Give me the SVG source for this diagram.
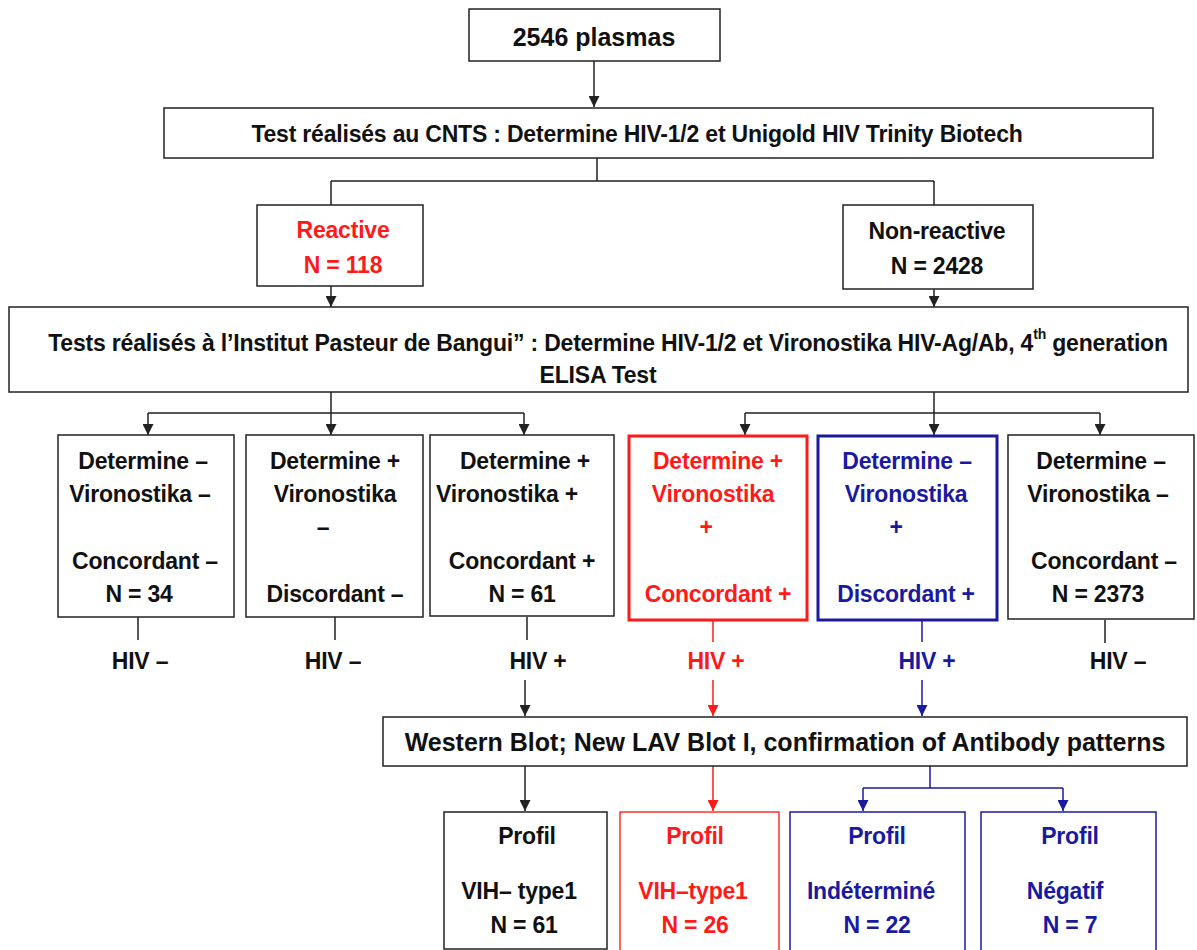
<svg xmlns="http://www.w3.org/2000/svg" width="1197" height="950" viewBox="0 0 1197 950">
<style>
text{font-family:"Liberation Sans",Arial,sans-serif;font-weight:bold;font-size:23px;letter-spacing:-0.2px;text-anchor:middle;fill:#111}
.big{font-size:25px;letter-spacing:0}
.box{fill:#fff;stroke:#222;stroke-width:1.5}
.r{fill:#ff1a1a}
.b{fill:#1a1aa0}
.rb{fill:#fff;stroke:#ff1a1a;stroke-width:3}
.bb{fill:#fff;stroke:#1a1aa0;stroke-width:3}
.rb1{fill:#fff;stroke:#ff3030;stroke-width:1.5}
.bb1{fill:#fff;stroke:#1a1aa0;stroke-width:1.5}
.ln{fill:none;stroke:#222;stroke-width:1.5}
.lr{fill:none;stroke:#ff1a1a;stroke-width:1.5}
.lb{fill:none;stroke:#1a1aa0;stroke-width:1.5}
</style>
<defs>
<marker id="ak" viewBox="0 0 10 10" refX="10" refY="5" markerWidth="12" markerHeight="11" markerUnits="userSpaceOnUse" orient="auto"><path d="M0,0L10,5L0,10z" fill="#222"/></marker>
<marker id="ar" viewBox="0 0 10 10" refX="10" refY="5" markerWidth="12" markerHeight="11" markerUnits="userSpaceOnUse" orient="auto"><path d="M0,0L10,5L0,10z" fill="#ff1a1a"/></marker>
<marker id="ab" viewBox="0 0 10 10" refX="10" refY="5" markerWidth="12" markerHeight="11" markerUnits="userSpaceOnUse" orient="auto"><path d="M0,0L10,5L0,10z" fill="#1a1aa0"/></marker>
</defs>
<rect width="1197" height="950" fill="#fff"/>

<g id="connectors">
<path class="ln" d="M594,61V107" marker-end="url(#ak)"/>
<path class="ln" d="M597,158V181M331,181H934M331,181V205M934,181V205"/>
<path class="ln" d="M331,286V307" marker-end="url(#ak)"/>
<path class="ln" d="M934,289V307" marker-end="url(#ak)"/>
<path class="ln" d="M331,392V413M148,413H524"/>
<path class="ln" d="M148,413V435" marker-end="url(#ak)"/>
<path class="ln" d="M331,413V435" marker-end="url(#ak)"/>
<path class="ln" d="M524,413V435" marker-end="url(#ak)"/>
<path class="ln" d="M934,392V413M745,413H1100"/>
<path class="ln" d="M745,413V435" marker-end="url(#ak)"/>
<path class="ln" d="M934,413V435" marker-end="url(#ak)"/>
<path class="ln" d="M1100,413V435" marker-end="url(#ak)"/>
<path class="ln" d="M138,617V640M335,617V640M527,617V640M1105,620V643"/>
<path class="lr" d="M713,620V642"/>
<path class="lb" d="M922,620V642"/>
<path class="ln" d="M525,680V716" marker-end="url(#ak)"/>
<path class="lr" d="M713,680V716" marker-end="url(#ar)"/>
<path class="lb" d="M922,680V716" marker-end="url(#ab)"/>
<path class="ln" d="M525,766V811" marker-end="url(#ak)"/>
<path class="lr" d="M713,766V811" marker-end="url(#ar)"/>
<path class="lb" d="M930,766V788M863,788H1063"/>
<path class="lb" d="M863,788V811" marker-end="url(#ab)"/>
<path class="lb" d="M1063,788V811" marker-end="url(#ab)"/>
</g>

<g id="n-plasmas"><rect class="box" x="469" y="9" width="251" height="52"/><text class="big" x="594" y="46">2546 plasmas</text></g>
<g id="n-cnts"><rect class="box" x="164" y="108" width="989" height="50"/><text x="637" y="142">Test réalisés au CNTS : Determine HIV-1/2 et Unigold HIV Trinity Biotech</text></g>
<g id="n-reactive"><rect class="box" x="257" y="205" width="166" height="81"/><text class="r" x="343" y="238">Reactive</text><text class="r" x="343" y="273">N = 118</text></g>
<g id="n-nonreactive"><rect class="box" x="843" y="205" width="190" height="84"/><text x="937" y="239">Non-reactive</text><text x="937" y="274">N = 2428</text></g>
<g id="n-pasteur"><rect class="box" x="9" y="307" width="1179" height="85"/><text x="608" y="351">Tests réalisés à l’Institut Pasteur de Bangui” : Determine HIV-1/2 et Vironostika HIV-Ag/Ab, 4<tspan dy="-12" style="font-size:14px">th</tspan><tspan dy="12"> generation</tspan></text><text x="598" y="383">ELISA Test</text></g>

<g id="n-c1"><rect class="box" x="58" y="435" width="176" height="182"/><text x="143" y="469">Determine –</text><text x="140" y="502">Vironostika –</text><text x="145" y="569">Concordant –</text><text x="139" y="602">N = 34</text></g>
<g id="n-c2"><rect class="box" x="246" y="435" width="177" height="182"/><text x="335" y="469">Determine +</text><text x="335" y="502">Vironostika</text><text x="323" y="535">–</text><text x="335" y="602">Discordant –</text></g>
<g id="n-c3"><rect class="box" x="430" y="435" width="184" height="181"/><text x="525" y="469">Determine +</text><text x="507" y="502">Vironostika +</text><text x="522" y="569">Concordant +</text><text x="522" y="602">N = 61</text></g>
<g id="n-c4"><rect class="rb" x="629" y="436" width="178" height="184"/><text class="r" x="718" y="469">Determine +</text><text class="r" x="713" y="502">Vironostika</text><text class="r" x="706" y="535">+</text><text class="r" x="718" y="602">Concordant +</text></g>
<g id="n-c5"><rect class="bb" x="818" y="436" width="179" height="184"/><text class="b" x="907" y="469">Determine –</text><text class="b" x="906" y="502">Vironostika</text><text class="b" x="896" y="535">+</text><text class="b" x="906" y="602">Discordant +</text></g>
<g id="n-c6"><rect class="box" x="1008" y="435" width="186" height="184"/><text x="1101" y="469">Determine –</text><text x="1098" y="502">Vironostika –</text><text x="1104" y="569">Concordant –</text><text x="1098" y="602">N = 2373</text></g>

<g id="n-hiv1"><text x="140" y="669">HIV –</text></g>
<g id="n-hiv2"><text x="333" y="669">HIV –</text></g>
<g id="n-hiv3"><text x="538" y="669">HIV +</text></g>
<g id="n-hiv4"><text class="r" x="716" y="669">HIV +</text></g>
<g id="n-hiv5"><text class="b" x="927" y="669">HIV +</text></g>
<g id="n-hiv6"><text x="1118" y="669">HIV –</text></g>

<g id="n-wb"><rect class="box" x="383" y="717" width="804" height="49"/><text class="big" x="785" y="751">Western Blot; New LAV Blot I, confirmation of Antibody patterns</text></g>

<g id="n-p1"><rect class="box" x="444" y="812" width="163" height="137"/><text x="527" y="844">Profil</text><text x="519" y="899">VIH– type1</text><text x="524" y="933">N = 61</text></g>
<g id="n-p2"><rect class="rb1" x="620" y="812" width="159" height="142"/><text class="r" x="695" y="844">Profil</text><text class="r" x="693" y="899">VIH–type1</text><text class="r" x="695" y="933">N = 26</text></g>
<g id="n-p3"><rect class="bb1" x="790" y="812" width="175" height="142"/><text class="b" x="877" y="844">Profil</text><text class="b" x="871" y="899">Indéterminé</text><text class="b" x="877" y="933">N = 22</text></g>
<g id="n-p4"><rect class="bb1" x="981" y="812" width="175" height="142"/><text class="b" x="1070" y="844">Profil</text><text class="b" x="1065" y="899">Négatif</text><text class="b" x="1070" y="933">N = 7</text></g>
</svg>
